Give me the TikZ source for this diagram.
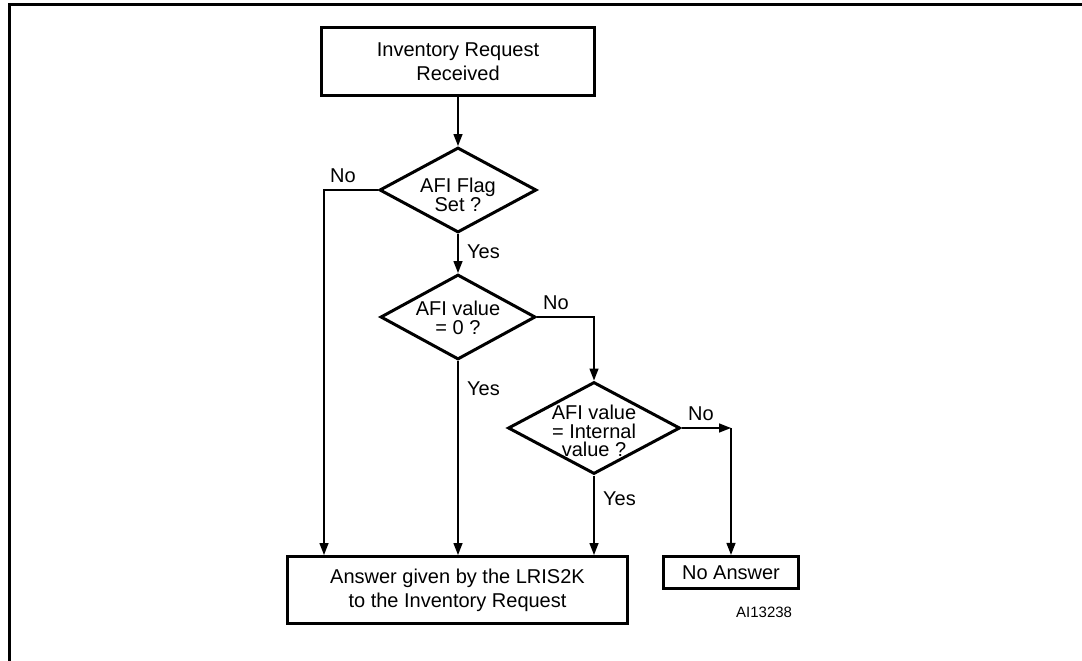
\documentclass[tikz,border=0pt]{standalone}
\usepackage{fontspec}
\setmainfont{Liberation Sans}
\usetikzlibrary{arrows.meta}
\usetikzlibrary{shapes.geometric}

\begin{document}
\begin{tikzpicture}[x=1pt, y=-1pt,
  box/.style={draw, line width=3pt, inner sep=0pt, align=center,
    font=\fontsize{20}{24}\selectfont},
  dec/.style={draw, diamond, line width=3pt, inner sep=0pt},
  dtext/.style={align=center, inner sep=0pt, font=\fontsize{20}{18.5}\selectfont},
  lbl/.style={anchor=base west, inner sep=0pt, font=\fontsize{20}{24}\selectfont},
  flow/.style={line width=1.4pt, -{Triangle[length=12pt, width=9pt]}}]
\useasboundingbox (0,0) rectangle (1082,661);

% frame
\draw[line width=3pt] (9.5,661) -- (9.5,4.7) -- (1082,4.7);

% boxes
\node[box, minimum width=273pt, minimum height=68pt] (recv) at (458,61.5)
  {Inventory Request\\Received};
\node[box, minimum width=340pt, minimum height=67pt] (ans) at (457.5,590)
  {Answer given by the LRIS2K\\to the Inventory Request};
\node[box, minimum width=135pt, minimum height=32pt] (noans) at (731,572.4)
  {No Answer};

% decisions
\node[dec, minimum width=157pt, minimum height=85pt,
  label={[dtext, yshift=-5pt]center:AFI Flag\\Set ?}] (flag) at (458,190) {};
\node[dec, minimum width=155pt, minimum height=85pt,
  label={[dtext, yshift=-1pt]center:AFI value\\= 0 ?}] (zero) at (458,317) {};
\node[dec, minimum width=172pt, minimum height=92pt,
  label={[dtext, yshift=-3pt]center:AFI value\\= Internal\\value ?}] (intern) at (594,428) {};

\coordinate (left) at (324,190);

% connectors
\draw[flow] (recv.south) -- (flag.north);
\draw[flow] (flag.west) -- (left) -- (left |- ans.north);
\draw[flow] (flag.south) -- (zero.north);
\draw[flow] (zero.south) -- (zero.south |- ans.north);
\draw[flow] (zero.east) -| (intern.north);
\draw[flow] (intern.south) -- (intern.south |- ans.north);
\draw[flow] (intern.east) -- (noans.north |- intern.east);
\draw[flow] (noans.north |- intern.east) -- (noans.north);

% labels
\node[lbl] (no1) at (330,182) {No};
\node[lbl] (yes1) at (467,258) {Yes};
\node[lbl] (no2) at (543,309) {No};
\node[lbl] (yes2) at (467,395) {Yes};
\node[lbl] (no3) at (688,420) {No};
\node[lbl] (yes3) at (603,505) {Yes};

\node[anchor=base west, inner sep=0pt, font=\fontsize{15}{18}\selectfont] (code) at (736,617) {AI13238};
\end{tikzpicture}
\end{document}
